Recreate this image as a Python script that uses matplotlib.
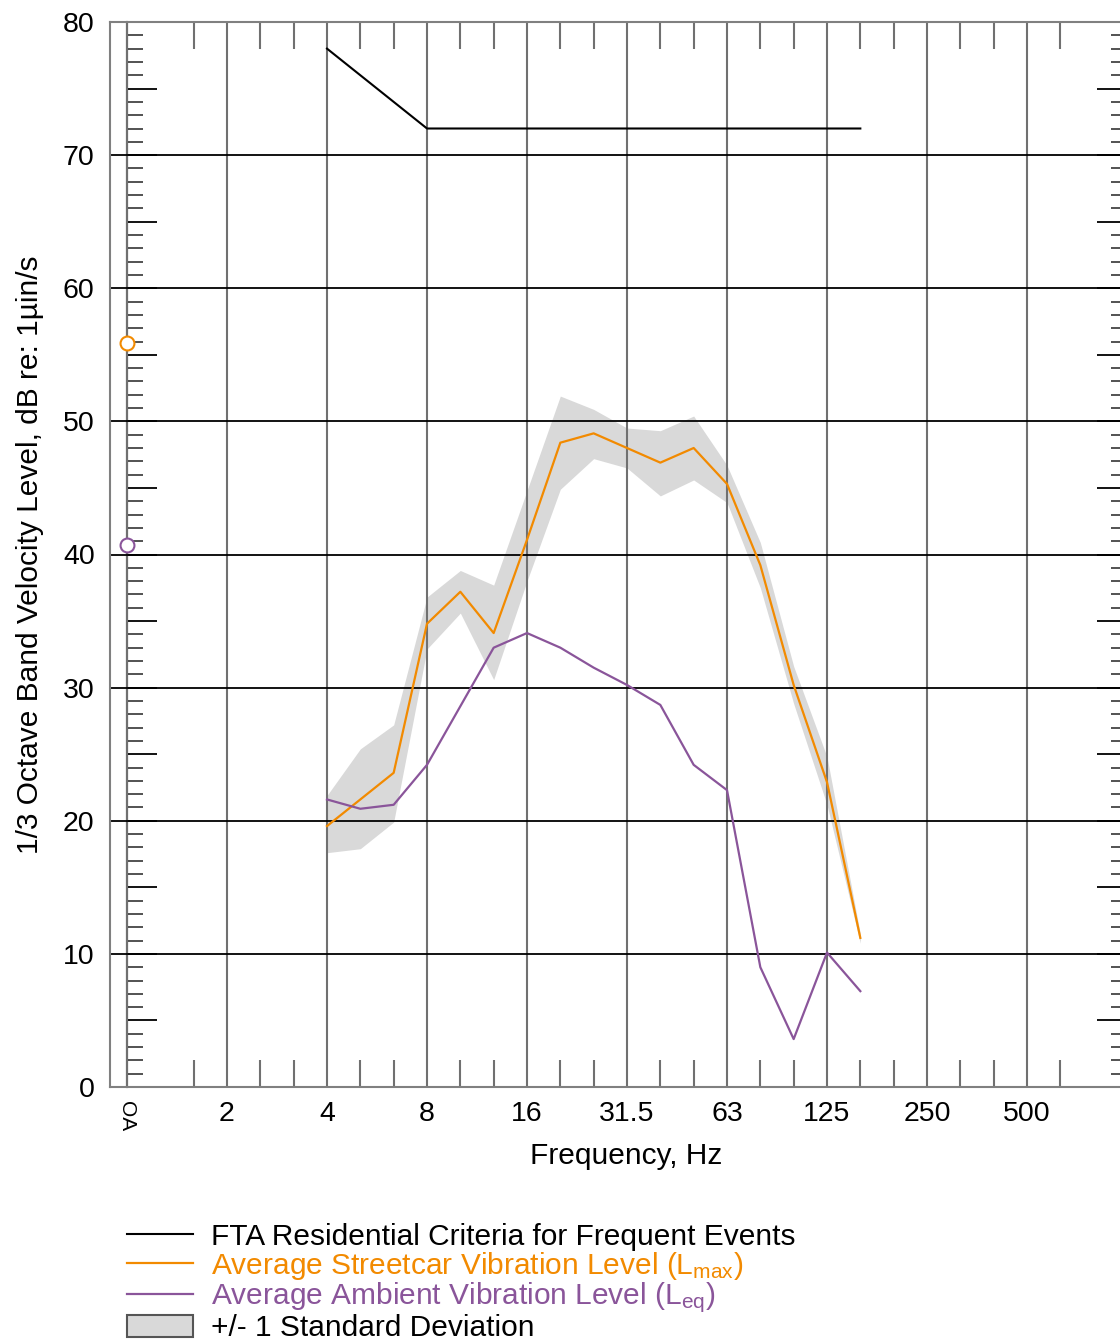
import numpy as np
import matplotlib.pyplot as plt
from matplotlib.lines import Line2D
from matplotlib.patches import Patch
from matplotlib.ticker import FixedLocator, MultipleLocator, NullFormatter

plt.rcParams['font.family'] = ['Liberation Sans', 'DejaVu Sans']
plt.rcParams['mathtext.default'] = 'regular'

# 1/3 octave band axis (OA first, then 1.25 Hz ... 1000 Hz)
all_bands = ['OA', '1.25', '1.6', '2', '2.5', '3.15', '4', '5', '6.3', '8', '10',
             '12.5', '16', '20', '25', '31.5', '40', '50', '63', '80', '100',
             '125', '160', '200', '250', '315', '400', '500', '630', '800', '1000']
octave_labels = ['OA', '2', '4', '8', '16', '31.5', '63', '125', '250', '500']

bands = ['4', '5', '6.3', '8', '10', '12.5', '16', '20', '25', '31.5', '40',
         '50', '63', '80', '100', '125', '160']
lmax = [19.6, 21.6, 23.6, 34.8, 37.2, 34.1, 41.1, 48.4, 49.1, 48.0, 46.9,
        48.0, 45.3, 39.2, 30.2, 22.9, 11.2]
lmax_hi = [21.9, 25.4, 27.2, 36.8, 38.8, 37.7, 44.8, 51.9, 50.9, 49.5, 49.3,
           50.4, 46.7, 40.9, 31.6, 24.8, 11.5]
lmax_lo = [17.6, 17.9, 19.9, 32.9, 35.6, 30.6, 38.0, 44.9, 47.2, 46.5, 44.4,
           45.6, 43.9, 37.5, 28.8, 21.2, 10.8]
leq = [21.6, 20.9, 21.2, 24.2, 28.6, 33.0, 34.1, 33.0, 31.5, 30.2, 28.7,
       24.2, 22.3, 9.0, 3.6, 10.1, 7.2]

fta_bands = ['4', '8', '160']
fta = [78, 72, 72]

oa_lmax = 55.9
oa_leq = 40.75

orange = '#f28a00'
purple = '#8a559a'
band_gray = '#d9d9d9'

pos = {b: i for i, b in enumerate(all_bands)}
x = [pos[b] for b in bands]

fig = plt.figure(figsize=(11.2, 13.43), dpi=100)
ax = fig.add_axes([110/1120, 256/1343, 1017/1120, 1065/1343])
ax.set_xlim(-0.51, 30)
ax.set_ylim(0, 80)

ax.fill_between(x, lmax_lo, lmax_hi, color=band_gray, lw=0, zorder=1)
ax.plot([pos[b] for b in fta_bands], fta, color='black', lw=1.5, zorder=3)
ax.plot(x, lmax, color=orange, lw=1.6, zorder=3)
ax.plot(x, leq, color=purple, lw=1.6, zorder=3)
ax.plot([0], [oa_lmax], 'o', ms=10, mfc='white', mec=orange, mew=1.5, zorder=5, clip_on=False)
ax.plot([0], [oa_leq], 'o', ms=10, mfc='white', mec=purple, mew=1.5, zorder=5, clip_on=False)

# grid
for s in ax.spines.values():
    s.set_color('#808080')
    s.set_linewidth(1.5)
oct_pos = [pos[b] for b in octave_labels]
ax.xaxis.set_major_locator(FixedLocator(oct_pos))
ax.set_xticklabels(octave_labels, fontsize=20.5)
ax.get_xticklabels()[0].set_rotation(-90)
ax.get_xticklabels()[0].set_fontsize(15)
minor_x = [i for i in range(2, 29) if i % 3 != 0]
ax.xaxis.set_minor_locator(FixedLocator(minor_x))
ax.tick_params(axis='x', which='major', length=0, pad=10)
ax.tick_params(axis='x', which='minor', direction='in', length=19.5, width=1.5,
               color='#707070', top=True, bottom=True)
ax.grid(True, axis='x', which='major', color='#707070', lw=1.5, zorder=0)

ax.yaxis.set_major_locator(MultipleLocator(10))
ax.tick_params(axis='y', which='major', length=0, pad=11, labelsize=20.5)
ax.tick_params(axis='y', which='minor', length=0)
ax.grid(True, axis='y', which='major', color='black', lw=1.3, zorder=0)

# y ticks on OA line and on right edge
for loc in [(0 + 0.51) / 30.51, 'right']:
    sec = ax.secondary_yaxis(loc)
    sec.yaxis.set_major_locator(MultipleLocator(5))
    sec.yaxis.set_minor_locator(MultipleLocator(1))
    sec.yaxis.set_major_formatter(NullFormatter())
    sec.tick_params(which='major', direction='in', length=21.5, width=1.3, color='black')
    sec.tick_params(which='minor', direction='in', length=11.5, width=1.3, color='#444444')
    if loc != 'right':
        sec.spines['left'].set_color('black')
        sec.spines['left'].set_linewidth(1.5)
    else:
        sec.spines['right'].set_color('#808080')

ax.set_ylabel('1/3 Octave Band Velocity Level, dB re: 1\u00b5in/s', fontsize=21.5, labelpad=14)
ax.set_xlabel('Frequency, Hz', fontsize=21.5)
ax.xaxis.set_label_coords(0.508, -0.052)
ax.xaxis.label.set_va('top')

handles = [Line2D([], [], color='black', lw=1.5),
           Line2D([], [], color=orange, lw=1.6),
           Line2D([], [], color=purple, lw=1.6),
           Patch(facecolor=band_gray, edgecolor='#555555', lw=1.5)]
labels = ['FTA Residential Criteria for Frequent Events',
          'Average Streetcar Vibration Level (L$_{max}$)',
          'Average Ambient Vibration Level (L$_{eq}$)',
          '+/- 1 Standard Deviation']
leg = fig.legend(handles, labels, loc='upper left', bbox_to_anchor=(127/1120, 1 - 1223/1343),
                 frameon=False, fontsize=21.5, handlelength=2.2, handleheight=0.75,
                 handletextpad=0.6, labelspacing=-0.04, borderpad=0, borderaxespad=0)
for t, c in zip(leg.get_texts(), ['black', orange, purple, 'black']):
    t.set_color(c)

fig.savefig('out.png', dpi=100)
